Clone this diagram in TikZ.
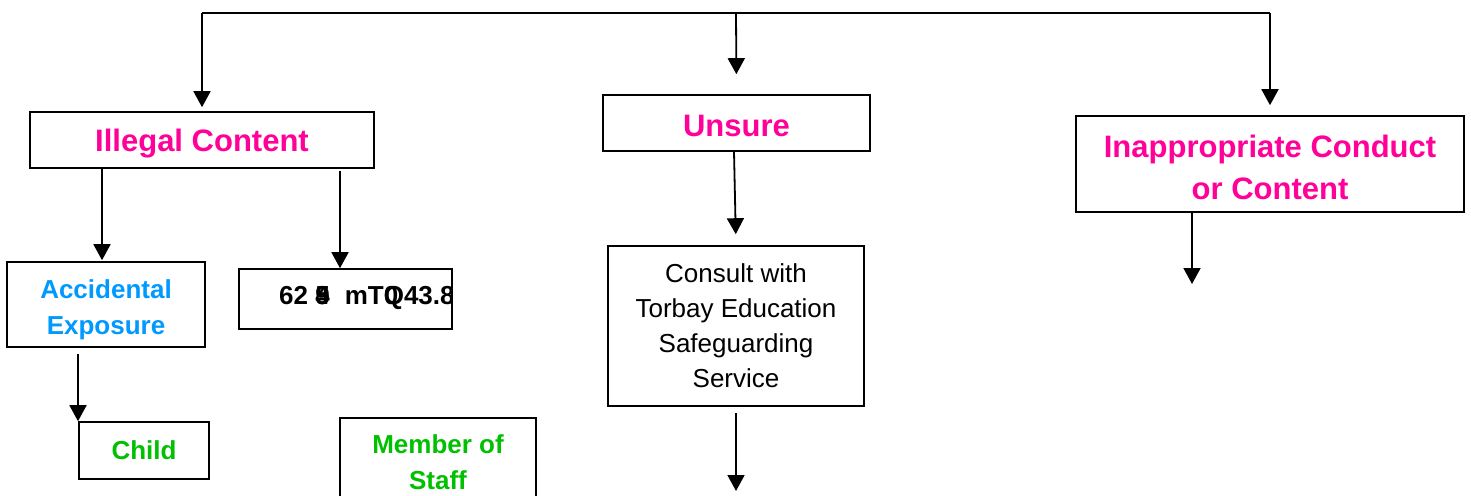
\documentclass[tikz,border=0pt]{standalone}
\usepackage{fontspec}
\setmainfont{Liberation Sans}
\usetikzlibrary{arrows.meta}
\definecolor{pinkc}{RGB}{255,0,153}
\definecolor{bluec}{RGB}{0,153,255}
\definecolor{greenc}{RGB}{0,192,0}
\begin{document}
\begin{tikzpicture}[x=1pt,y=-1pt,
  box/.style={draw,line width=1.6pt,inner sep=0pt,align=center},
  big/.style={font=\fontsize{31}{42}\selectfont\bfseries,text=pinkc,align=center},
  mid/.style={font=\fontsize{26}{36}\selectfont\bfseries,align=center},
  plain/.style={font=\fontsize{26}{35}\selectfont},
  arr/.style={line width=1.8pt,-{Triangle[width=17pt,length=16pt]}},
  ln/.style={line width=1.8pt}]
\useasboundingbox (0,0) rectangle (1471,495);
% boxes
\node[box,minimum width=344pt,minimum height=56pt,
  label={[big,yshift=-4pt]center:Illegal Content}] (ill) at (202,140) {};
\node[box,minimum width=267pt,minimum height=56pt,
  label={[big,yshift=-3pt]center:Unsure}] (uns) at (736.5,123) {};
\node[box,minimum width=388pt,minimum height=96pt,
  label={[big,yshift=-3pt]center:{Inappropriate Conduct\\or Content}}] (inap) at (1270,164) {};
\node[box,minimum width=198pt,minimum height=85pt,
  label={[mid,text=bluec,yshift=-5pt]center:{Accidental\\Exposure}}] (acc) at (106,304.5) {};
\node[box,minimum width=213pt,minimum height=60pt] (gar) at (345.5,299) {};
\begin{scope}
\clip (239,269) rectangle (451,329);
\node[mid,anchor=west,inner sep=0pt] (gartext) at (279,298) {62 \rlap{4}\rlap{5}9\kern15pt mT\rlap{0}Q43.8};
\end{scope}
\node[box,plain,minimum width=256pt,minimum height=160pt] (con) at (736,326) {Consult with\\Torbay Education\\Safeguarding\\Service};
\node[box,mid,text=greenc,minimum width=130pt,minimum height=57pt] (child) at (144,450.5) {Child};
\node[box,mid,text=greenc,minimum width=196pt,minimum height=88pt] (staff) at (438,462) {Member of\\Staff};
% coordinates
\coordinate (t1) at (202,13);
\coordinate (tm) at (736,13);
\coordinate (t2) at (1270,13);
\coordinate (xa) at (102,0);
\coordinate (xg) at (340,0);
\coordinate (xu) at (734,0);
\coordinate (xc) at (78,0);
\coordinate (xi) at (1192,0);
\coordinate (cend) at (736,491);
\coordinate (iend) at (1192,284);
% connectors
\draw[ln] (t1) -- (t2);
\draw[arr,shorten >=4pt] (t1) -- (ill.north);
\draw[arr,shorten >=20pt] (tm) -- (uns.north);
\draw[arr,shorten >=10pt] (t2) -- (inap.north);
\draw[arr,shorten >=1pt] (ill.south -| xa) -- (acc.north -| xa);
\draw[arr,shorten <=2pt] (ill.south -| xg) -- (gar.north -| xg);
\draw[arr,shorten >=11pt] (uns.south -| xu) -- (con.north);
\draw[arr,shorten <=6pt] (con.south) -- (cend);
\draw[arr] (inap.south -| xi) -- (iend);
\draw[arr,shorten <=6pt] (acc.south -| xc) -- (child.north -| xc);
\end{tikzpicture}
\end{document}
